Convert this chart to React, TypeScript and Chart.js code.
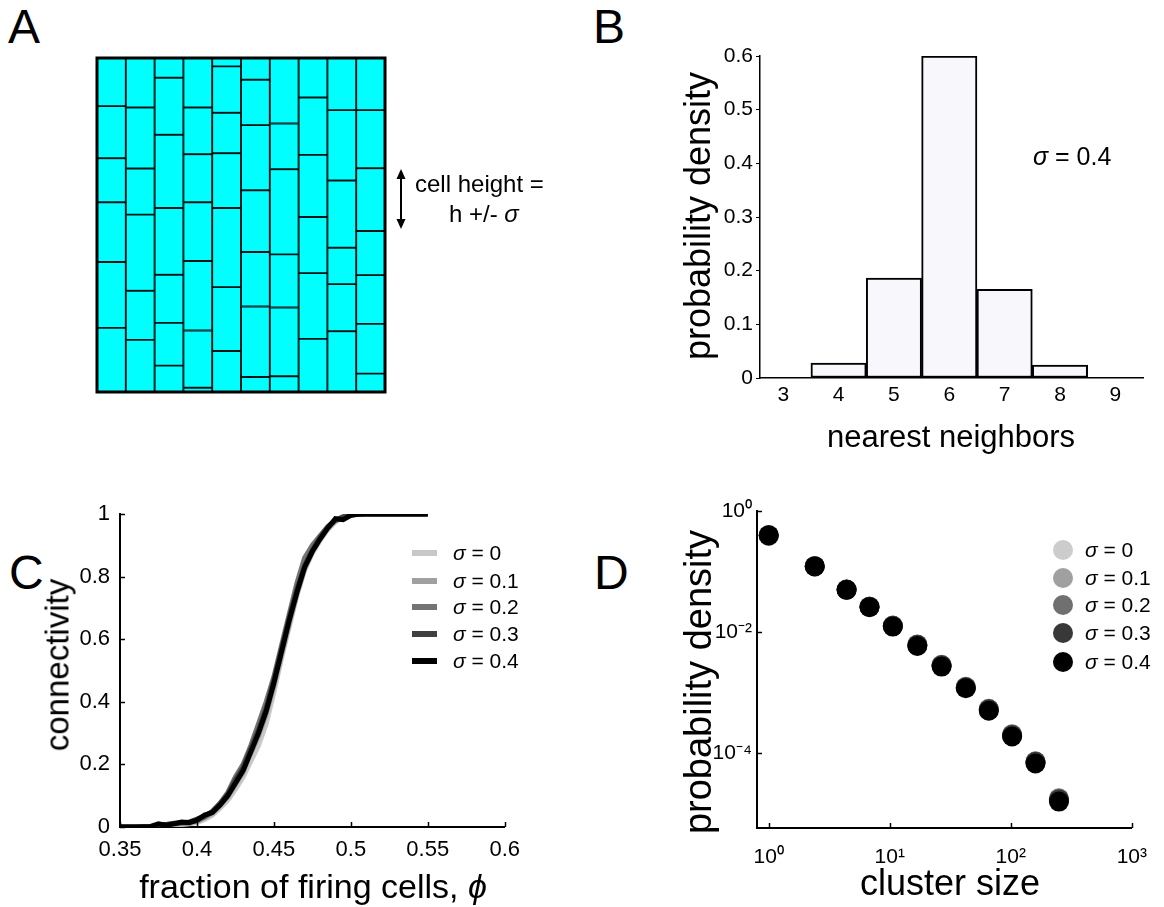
import React, { useEffect, useRef } from 'react';
import { Chart, registerables } from 'chart.js';
Chart.register(...registerables);

const FONT = '"Liberation Sans", Arial, Helvetica, sans-serif';
Chart.defaults.font.family = FONT;

// ---------- Panel A: cell heights per column (bottom to top, % of box height)
const columnLabels = ['1', '2', '3', '4', '5', '6', '7', '8', '9', '10'];
const col1 = [19.2, 19.7, 17.9, 13.2, 15.6, 14.4];
const col2 = [15.6, 14.7, 22.8, 13.8, 18.3, 14.8];
const col3 = [7.9, 12.8, 14.4, 20.0, 21.9, 17.1, 5.9];
const col4 = [1.3, 17.1, 20.8, 17.6, 14.4, 14.0, 14.8];
const col5 = [12.3, 19.1, 23.7, 16.4, 12.1, 13.9, 2.5];
const col6 = [4.5, 21.1, 16.3, 18.5, 19.5, 13.6, 6.5];
const col7 = [4.7, 20.6, 15.9, 25.5, 13.7, 19.6];
const col8 = [15.9, 19.7, 16.8, 18.6, 17.2, 11.8];
const col9 = [18.2, 14.1, 10.9, 20.1, 21.1, 15.6];
const col10 = [5.5, 14.9, 14.6, 13.2, 18.8, 17.4, 15.6];
const cellColumns = [col1, col2, col3, col4, col5, col6, col7, col8, col9, col10];

// ---------- Panel B: nearest neighbours histogram
const neighbors = [4, 5, 6, 7, 8];
const neighborDensity = [0.028, 0.186, 0.6, 0.165, 0.024];
const neighborTicks = [3, 4, 5, 6, 7, 8, 9];
const densityTicksB = [0, 0.1, 0.2, 0.3, 0.4, 0.5, 0.6];

// ---------- Panel C: connectivity vs fraction of firing cells
const phi = [0.35, 0.36, 0.37, 0.375, 0.38, 0.385, 0.39, 0.395, 0.4, 0.405, 0.41, 0.415, 0.42, 0.425, 0.43, 0.435, 0.44, 0.445, 0.45, 0.455, 0.46, 0.465, 0.47, 0.475, 0.48, 0.485, 0.49, 0.495, 0.5, 0.505, 0.51, 0.52, 0.53, 0.54, 0.55];
const conn00 = [0, 0, 0, 0.002, 0.004, 0.006, 0.008, 0.01, 0.014, 0.024, 0.038, 0.06, 0.085, 0.12, 0.16, 0.21, 0.26, 0.33, 0.43, 0.54, 0.64, 0.74, 0.82, 0.875, 0.915, 0.95, 0.975, 0.99, 0.997, 1, 1, 1, 1, 1, 1];
const conn01 = [0, 0, 0, 0.003, 0.005, 0.008, 0.01, 0.012, 0.018, 0.03, 0.044, 0.068, 0.095, 0.135, 0.175, 0.235, 0.29, 0.36, 0.45, 0.55, 0.65, 0.745, 0.825, 0.88, 0.92, 0.955, 0.978, 0.99, 0.997, 1, 1, 1, 1, 1, 1];
const conn02 = [0, 0, 0, 0.004, 0.007, 0.01, 0.012, 0.015, 0.02, 0.032, 0.048, 0.075, 0.11, 0.16, 0.2, 0.26, 0.33, 0.4, 0.48, 0.58, 0.68, 0.78, 0.86, 0.9, 0.93, 0.96, 0.98, 0.992, 0.998, 1, 1, 1, 1, 1, 1];
const conn03 = [0, 0, 0.001, 0.006, 0.008, 0.012, 0.014, 0.016, 0.025, 0.035, 0.05, 0.075, 0.105, 0.15, 0.19, 0.25, 0.31, 0.38, 0.47, 0.57, 0.67, 0.76, 0.835, 0.885, 0.925, 0.958, 0.98, 0.99, 0.997, 1, 1, 1, 1, 1, 1];
const conn04 = [0, 0, 0.002, 0.01, 0.006, 0.01, 0.016, 0.014, 0.022, 0.038, 0.046, 0.07, 0.1, 0.14, 0.18, 0.24, 0.3, 0.37, 0.46, 0.56, 0.66, 0.75, 0.83, 0.88, 0.92, 0.955, 0.985, 0.982, 0.996, 0.999, 1, 1, 1, 1, 1];
const phiTicks = [0.35, 0.4, 0.45, 0.5, 0.55, 0.6];
const connTicks = [0, 0.2, 0.4, 0.6, 0.8, 1];

// ---------- Panel D: cluster size distribution
const clusterSize = [1, 2.4, 4.4, 6.8, 10.6, 16.9, 26.8, 42.5, 65.8, 102.5, 160, 250];
const dens00 = [0.385, 0.122, 0.05, 0.026, 0.0126, 0.006, 0.00278, 0.00122, 0.000522, 0.000197, 0.00007, 0.0000168];
const dens01 = [0.392, 0.1225, 0.0503, 0.0262, 0.0127, 0.0061, 0.0028, 0.00123, 0.000528, 0.0002, 0.0000715, 0.0000172];
const dens02 = [0.398, 0.1235, 0.0508, 0.0266, 0.0129, 0.0063, 0.0029, 0.00126, 0.000545, 0.000207, 0.0000745, 0.0000182];
const dens03 = [0.4, 0.123, 0.0506, 0.0264, 0.0128, 0.0062, 0.00285, 0.00124, 0.000535, 0.000202, 0.000073, 0.0000175];
const dens04 = [0.396, 0.122, 0.0501, 0.0259, 0.0124, 0.00594, 0.00271, 0.00119, 0.000507, 0.000191, 0.0000684, 0.0000161];
const clusterTicks = [1, 10, 100, 1000];
const densTicksD = [0.0001, 0.01, 1];

const sigmaValues = ['0', '0.1', '0.2', '0.3', '0.4'];
const lineGrays = ['#c8c8c8', '#a0a0a0', '#747474', '#404040', '#000000'];
const dotGrays = ['#cccccc', '#a0a0a0', '#707070', '#383838', '#000000'];

const SUP: Record<string, string> = { '0': '⁰', '1': '¹', '2': '²', '3': '³', '4': '⁴', '5': '⁵', '-': '⁻' };
const pow10Label = (v: number) => '10' + String(Math.round(Math.log10(v))).split('').map((c) => SUP[c]).join('');

// ---------- plugins
const framePlugin = {
  id: 'frame',
  afterDatasetsDraw(chart: any) {
    const { ctx, chartArea: a } = chart;
    ctx.save();
    ctx.strokeStyle = '#000';
    ctx.lineWidth = 3;
    ctx.strokeRect(a.left, a.top, a.right - a.left, a.bottom - a.top);
    ctx.restore();
  },
};

const innerTicksPlugin = {
  id: 'innerTicks',
  afterDraw(chart: any, _args: any, opts: any) {
    const { ctx, chartArea: a, scales } = chart;
    const len = opts.len ?? 5;
    ctx.save();
    ctx.strokeStyle = '#000';
    ctx.lineWidth = opts.width ?? 1.5;
    scales.x.ticks.forEach((t: any) => {
      const px = Math.round(scales.x.getPixelForValue(t.value)) + 0.5;
      ctx.beginPath();
      ctx.moveTo(px, a.bottom);
      ctx.lineTo(px, a.bottom - len);
      ctx.stroke();
    });
    scales.y.ticks.forEach((t: any) => {
      const py = Math.round(scales.y.getPixelForValue(t.value)) + 0.5;
      ctx.beginPath();
      ctx.moveTo(a.left, py);
      ctx.lineTo(a.left + len, py);
      ctx.stroke();
    });
    ctx.restore();
  },
};

const setTicks = (vals: number[]) => (s: any) => {
  s.ticks = vals.map((v) => ({ value: v }));
};

const baseOpts = (padding: any) => ({
  animation: false as const,
  responsive: false,
  events: [],
  layout: { padding, autoPadding: false },
  plugins: { legend: { display: false }, tooltip: { enabled: false } },
});

// ---------- configs
const configA = () => {
  const maxCells = Math.max(...cellColumns.map((c) => c.length));
  const datasets = Array.from({ length: maxCells }, (_, k) => ({
    data: cellColumns.map((c) => (c[k] === undefined ? null : c[k])),
    backgroundColor: '#00ffff',
    borderColor: '#061414',
    borderWidth: 1.3,
    borderSkipped: false,
    barPercentage: 1,
    categoryPercentage: 1,
  }));
  return {
    type: 'bar',
    data: { labels: columnLabels, datasets },
    options: {
      ...baseOpts({ left: 7, top: 8, right: 15, bottom: 8 }),
      scales: {
        x: { stacked: true, display: false },
        y: { stacked: true, display: false, min: 0, max: 100 },
      },
    },
    plugins: [framePlugin],
  };
};

const tickFont = (size: number) => ({ family: FONT, size });

const configB = () => ({
  type: 'bar',
  data: {
    datasets: [
      {
        data: neighbors.map((n, i) => ({ x: n, y: neighborDensity[i] })),
        backgroundColor: '#f8f7fc',
        borderColor: '#000',
        borderWidth: 2,
        borderSkipped: false,
        barPercentage: 1,
        categoryPercentage: 1,
      },
    ],
  },
  options: {
    ...baseOpts({ left: 0, top: 26, right: 17, bottom: 0 }),
    scales: {
      x: {
        type: 'linear',
        min: 2.58,
        max: 9.5,
        offset: false,
        afterBuildTicks: setTicks(neighborTicks),
        afterFit: (s: any) => { s.height = 52; },
        grid: { display: true, drawOnChartArea: false, drawTicks: false, offset: false },
        border: { display: true, color: '#000', width: 1.5 },
        ticks: { color: '#000', font: tickFont(21), padding: 5, maxRotation: 0, autoSkip: false },
      },
      y: {
        min: 0,
        max: 0.6,
        afterBuildTicks: setTicks(densityTicksB),
        afterFit: (s: any) => { s.width = 70; },
        grid: { display: true, drawOnChartArea: false, drawTicks: true, tickLength: 4, color: '#000', tickColor: '#000' },
        border: { display: true, color: '#000', width: 1.5 },
        ticks: { color: '#000', font: tickFont(21), padding: 3, callback: (v: number) => String(v) },
      },
    },
  },
});

const connSeries = [conn00, conn01, conn02, conn03, conn04];
const configC = () => ({
  type: 'scatter',
  data: {
    datasets: connSeries.map((ys, i) => ({
      data: phi.map((x, j) => ({ x, y: ys[j] })),
      showLine: true,
      pointRadius: 0,
      borderWidth: 5,
      borderColor: lineGrays[i],
      backgroundColor: lineGrays[i],
      order: 4 - i,
      tension: 0,
    })),
  },
  options: {
    ...baseOpts({ left: 0, top: 24, right: 23, bottom: 0 }),
    plugins: { legend: { display: false }, tooltip: { enabled: false }, innerTicks: { len: 5, width: 1.5 } },
    scales: {
      x: {
        type: 'linear',
        min: 0.35,
        max: 0.6,
        afterBuildTicks: setTicks(phiTicks),
        afterFit: (s: any) => { s.height = 63; },
        grid: { display: true, drawOnChartArea: false, drawTicks: false },
        border: { display: true, color: '#000', width: 2 },
        ticks: { color: '#000', font: tickFont(22), padding: 10, maxRotation: 0, autoSkip: false, callback: (v: number) => String(v) },
      },
      y: {
        min: 0,
        max: 1,
        afterBuildTicks: setTicks(connTicks),
        afterFit: (s: any) => { s.width = 70; },
        grid: { display: true, drawOnChartArea: false, drawTicks: false },
        border: { display: true, color: '#000', width: 2 },
        ticks: { color: '#000', font: tickFont(22), padding: 10, callback: (v: number) => String(v) },
      },
    },
  },
  plugins: [innerTicksPlugin],
});

const densSeries = [dens00, dens01, dens02, dens03, dens04];
const configD = () => ({
  type: 'scatter',
  data: {
    datasets: densSeries.map((ys, i) => ({
      data: clusterSize.map((x, j) => ({ x, y: ys[j] })),
      pointRadius: 10,
      pointBorderWidth: 0,
      backgroundColor: dotGrays[i],
      borderColor: dotGrays[i],
      order: 4 - i,
      clip: false,
    })),
  },
  options: {
    ...baseOpts({ left: 0, top: 21, right: 21, bottom: 0 }),
    plugins: { legend: { display: false }, tooltip: { enabled: false }, innerTicks: { len: 5, width: 1.5 } },
    scales: {
      x: {
        type: 'logarithmic',
        min: 0.8,
        max: 1000,
        afterBuildTicks: setTicks(clusterTicks),
        afterFit: (s: any) => { s.height = 72; },
        grid: { display: true, drawOnChartArea: false, drawTicks: false },
        border: { display: true, color: '#000', width: 2 },
        ticks: { color: '#000', font: tickFont(21), padding: 17, maxRotation: 0, autoSkip: false, callback: (v: number) => pow10Label(v) },
      },
      y: {
        type: 'logarithmic',
        min: 5.9e-6,
        max: 1,
        afterBuildTicks: setTicks(densTicksD),
        afterFit: (s: any) => { s.width = 77; },
        grid: { display: true, drawOnChartArea: false, drawTicks: false },
        border: { display: true, color: '#000', width: 2 },
        ticks: { color: '#000', font: tickFont(21), padding: 5, autoSkip: false, callback: (v: number) => pow10Label(v) },
      },
    },
  },
  plugins: [innerTicksPlugin],
});

function ChartBox({ left, top, width, height, make }: any) {
  const ref = useRef<HTMLCanvasElement>(null);
  useEffect(() => {
    const chart = new Chart(ref.current as HTMLCanvasElement, make() as any);
    return () => chart.destroy();
  }, []);
  return (
    <canvas
      ref={ref}
      width={width}
      height={height}
      style={{ position: 'absolute', left, top, width, height, display: 'block' }}
    />
  );
}

// text helper: x = left (or center), y = baseline
function Txt({ x, y, size, children, center = false, rotate = false }: any) {
  const style: React.CSSProperties = {
    position: 'absolute',
    fontFamily: FONT,
    fontSize: size,
    lineHeight: 1,
    whiteSpace: 'nowrap',
    color: '#000',
  };
  if (rotate) {
    style.left = x;
    style.top = y;
    style.transform = 'translate(-50%, -50%) rotate(-90deg)';
  } else {
    style.top = y - 0.8465 * size;
    style.left = x;
    if (center) style.transform = 'translateX(-50%)';
  }
  return <div style={style}>{children}</div>;
}

const Sig = () => <span style={{ fontStyle: 'italic' }}>σ</span>;
const Phi = () => <span style={{ fontStyle: 'italic' }}>ϕ</span>;

export default function App() {
  const legendC = [553, 581, 607, 634, 661];
  const legendD = [550, 578, 605, 633, 662];
  return (
    <div style={{ position: 'absolute', left: 0, top: 0, width: 1164, height: 907, background: '#fff', overflow: 'hidden' }}>
      <ChartBox left={90} top={50} width={310} height={350} make={configA} />
      <ChartBox left={690} top={30} width={470} height={400} make={configB} />
      <ChartBox left={50} top={490} width={480} height={400} make={configC} />
      <ChartBox left={680} top={490} width={484} height={410} make={configD} />

      {/* Panel letters */}
      <Txt x={8} y={44} size={48}>A</Txt>
      <Txt x={593} y={44} size={48}>B</Txt>
      <Txt x={9} y={590} size={48}>C</Txt>
      <Txt x={594} y={590} size={48}>D</Txt>

      {/* Panel A annotation */}
      <svg style={{ position: 'absolute', left: 390, top: 160, width: 24, height: 80 }} width={24} height={80}>
        <line x1={11} y1={16} x2={11} y2={64} stroke="#000" strokeWidth={2} />
        <polygon points="11,9 6.5,19 15.5,19" fill="#000" />
        <polygon points="11,69 6.5,59 15.5,59" fill="#000" />
      </svg>
      <Txt x={415} y={192} size={24}>cell height =</Txt>
      <Txt x={449} y={222} size={24}>h +/- <Sig /></Txt>

      {/* Panel B texts */}
      <Txt x={698} y={216} size={36} rotate>probability density</Txt>
      <Txt x={951} y={447} size={31} center>nearest neighbors</Txt>
      <Txt x={1033} y={165} size={25}><Sig /> = 0.4</Txt>

      {/* Panel C texts */}
      <Txt x={57} y={665} size={33} rotate>connectivity</Txt>
      <Txt x={313} y={898} size={34} center>fraction of firing cells, <Phi /></Txt>
      {legendC.map((cy, i) => (
        <React.Fragment key={'lc' + i}>
          <div style={{ position: 'absolute', left: 412, top: cy - 3, width: 25, height: 6, background: lineGrays[i] }} />
          <Txt x={453} y={cy + 7} size={21}><Sig /> = {sigmaValues[i]}</Txt>
        </React.Fragment>
      ))}

      {/* Panel D texts */}
      <Txt x={698} y={682} size={38} rotate>probability density</Txt>
      <Txt x={950} y={895} size={36} center>cluster size</Txt>
      {legendD.map((cy, i) => (
        <React.Fragment key={'ld' + i}>
          <div style={{ position: 'absolute', left: 1053, top: cy - 10, width: 20, height: 20, borderRadius: 10, background: dotGrays[i] }} />
          <Txt x={1085} y={cy + 7} size={21}><Sig /> = {sigmaValues[i]}</Txt>
        </React.Fragment>
      ))}
    </div>
  );
}
